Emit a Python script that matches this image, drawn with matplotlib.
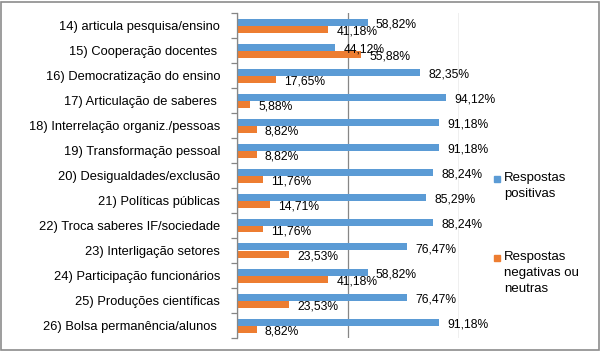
import matplotlib
matplotlib.use("Agg")
import matplotlib.pyplot as plt
from matplotlib.patches import Rectangle
import numpy as np

categorias = [
    "14) articula pesquisa/ensino",
    "15) Cooperação docentes ",
    "16) Democratização do ensino",
    "17) Articulação de saberes ",
    "18) Interrelação organiz./pessoas",
    "19) Transformação pessoal",
    "20) Desigualdades/exclusão",
    "21) Políticas públicas",
    "22) Troca saberes IF/sociedade",
    "23) Interligação setores",
    "24) Participação funcionários",
    "25) Produções científicas",
    "26) Bolsa permanência/alunos ",
]
positivas = [58.82, 44.12, 82.35, 94.12, 91.18, 91.18, 88.24, 85.29, 88.24, 76.47, 58.82, 76.47, 91.18]
negativas = [41.18, 55.88, 17.65, 5.88, 8.82, 8.82, 11.76, 14.71, 11.76, 23.53, 41.18, 23.53, 8.82]
legendas = ["Respostas\npositivas", "Respostas\nnegativas ou\nneutras"]

azul = "#5B9BD5"
laranja = "#ED7D31"
cinza = "#868686"

plt.rcParams["font.family"] = ["Liberation Sans", "DejaVu Sans"]
plt.rcParams["font.size"] = 8.5

fig = plt.figure(figsize=(6.01, 3.51), dpi=100)
ax = fig.add_axes([237 / 601, 1 - 338 / 351, 222 / 601, 325 / 351])

y = np.arange(len(categorias))
h = 0.28
b1 = ax.barh(y - h / 2, positivas, h, color=azul)
b2 = ax.barh(y + h / 2, negativas, h, color=laranja)

for barras in (b1, b2):
    for r in barras:
        v = r.get_width()
        ax.annotate(f"{v:.2f}%".replace(".", ","),
                    (v, r.get_y() + r.get_height() / 2),
                    xytext=(6, -2), textcoords="offset points",
                    ha="left", va="center", fontsize=8.7, color="#000000")

ax.set_xlim(0, 100)
ax.set_ylim(len(categorias) - 0.5, -0.5)
ax.set_xticks([0, 50, 100])
ax.set_xticklabels([])
ax.tick_params(axis="x", length=0)
ax.grid(axis="x", color=cinza, linewidth=0.9)
ax.set_axisbelow(True)

ax.set_yticks(y)
ax.set_yticklabels(categorias, fontsize=9.3)
ax.set_yticks(np.arange(len(categorias) + 1) - 0.5, minor=True)
ax.tick_params(axis="y", which="major", length=0, pad=12)
ax.tick_params(axis="y", which="minor", length=4, color=cinza, width=0.9)

for s in ("top", "right", "bottom"):
    ax.spines[s].set_visible(False)
ax.spines["left"].set_color(cinza)
ax.spines["left"].set_linewidth(0.9)

# legenda: marcador alinhado com a primeira linha do texto
for txt, cor, y_px in zip(legendas, [azul, laranja], [178.5, 258]):
    fig.patches.append(Rectangle((494 / 601, 1 - (y_px + 3) / 351), 6 / 601, 6 / 351,
                                 transform=fig.transFigure, color=cor))
    fig.text(504 / 601, 1 - (y_px - 7) / 351, txt, ha="left", va="top",
             fontsize=9.5, linespacing=1.45)

fig.patches.append(Rectangle((0.5 / 601, 1.5 / 351), 598 / 601, 347.5 / 351,
                             transform=fig.transFigure, fill=False,
                             edgecolor="#8C8C8C", linewidth=1.2))

fig.savefig("out.png", dpi=100)
